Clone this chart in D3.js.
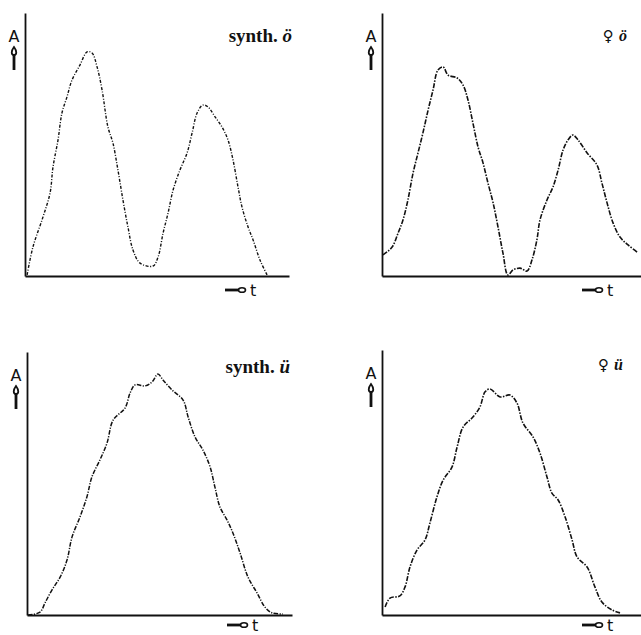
<html>
<head>
  <title>Amplitude envelopes ö / ü</title>
  <script src="https://d3js.org/d3.v7.min.js"></script>
  <style>
    body { margin: 0; background: white; }
    svg { display: block; }
  </style>
</head>
<body>
<script>
  // amplitude envelopes, t and A in % of axis length
  const synthOeT = [0.8, 3.0, 6.8, 9.5, 10.6, 12.5, 14.0, 15.9, 17.8, 20.8, 23.5, 25.4, 27.3, 29.2, 31.4, 33.3, 35.2, 37.1, 39.0, 40.9, 43.6, 48.5, 50.4, 52.3, 54.2, 56.1, 58.7, 61.4, 63.3, 65.2, 67.4, 69.3, 72.0, 74.6, 76.9, 78.8, 80.7, 82.2, 84.5, 86.4, 89.0, 91.7];
  const synthOeA = [0.4, 11.0, 22.4, 31.6, 41.4, 51.7, 62.0, 68.1, 74.5, 80.2, 85.2, 84.8, 79.5, 70.7, 56.7, 50.6, 40.3, 28.9, 18.6, 9.9, 4.9, 3.8, 7.2, 16.3, 24.0, 32.7, 40.3, 46.8, 54.4, 62.0, 65.0, 64.3, 60.5, 56.7, 51.7, 44.1, 33.8, 26.2, 18.6, 13.7, 6.1, 0.4];

  const femOeT = [0.4, 3.9, 6.2, 8.1, 10.0, 12.0, 13.9, 15.8, 17.8, 19.7, 21.6, 23.6, 25.5, 29.0, 31.3, 33.2, 35.1, 37.1, 39.0, 40.9, 42.9, 44.8, 46.7, 48.6, 50.6, 53.3, 56.0, 57.9, 59.8, 61.0, 63.7, 66.0, 68.0, 69.9, 71.8, 73.7, 75.7, 79.2, 83.0, 84.9, 86.9, 89.2, 91.9, 95.0, 98.5];
  const femOeA = [8.0, 11.0, 16.3, 21.3, 28.9, 39.2, 46.8, 54.4, 63.1, 70.7, 78.3, 79.5, 76.4, 75.3, 72.6, 66.9, 58.2, 49.0, 43.0, 35.4, 27.8, 18.6, 8.7, 0.4, 2.3, 3.0, 1.9, 6.1, 13.7, 21.3, 28.9, 33.8, 40.3, 47.9, 51.7, 53.6, 51.7, 46.8, 42.2, 35.4, 27.8, 20.2, 14.8, 11.8, 9.1];

  const synthUeT = [0.4, 4.9, 6.8, 9.4, 12.5, 15.1, 17.0, 20.0, 22.6, 24.5, 27.5, 30.2, 32.5, 37.0, 38.9, 40.8, 44.5, 47.2, 49.4, 51.3, 54.7, 58.9, 60.8, 63.4, 66.4, 69.1, 70.9, 72.8, 75.5, 77.7, 80.4, 83.4, 86.8, 89.8, 92.5, 96.6];
  const synthUeA = [0, 1.1, 4.6, 9.5, 14.4, 20.9, 29.7, 37.3, 44.9, 52.5, 58.9, 65.4, 74.1, 78.7, 84.4, 87.5, 87.1, 88.6, 91.6, 89.4, 85.6, 81.7, 75.3, 67.7, 62.7, 56.3, 48.7, 41.1, 36.1, 31.2, 23.6, 14.4, 8.4, 3.0, 0.8, 0.4];

  const femUeT = [1.2, 3.1, 6.9, 8.9, 10.8, 13.5, 16.6, 18.5, 21.2, 23.6, 27.0, 29.0, 31.3, 35.1, 37.8, 39.8, 41.7, 45.6, 49.4, 52.1, 54.4, 58.3, 61.0, 63.7, 65.6, 68.0, 70.7, 73.4, 75.3, 79.2, 82.2, 84.9, 88.8, 91.9];
  const femUeA = [3.0, 6.4, 7.2, 10.6, 18.1, 24.5, 28.3, 34.7, 44.5, 50.9, 55.8, 63.4, 70.9, 74.7, 78.5, 84.2, 85.3, 82.3, 83.0, 80.0, 72.5, 67.2, 61.1, 52.1, 46.0, 43.4, 37.0, 28.3, 21.9, 18.1, 10.6, 4.9, 1.9, 0.8];

  const titles = [["synth. ", "ö"], ["♀ ", "ö"], ["synth. ", "ü"], ["♀ ", "ü"]];

  const width = 641, height = 635;
  const svg = d3.select("body").append("svg")
    .attr("width", width)
    .attr("height", height);

  // panel frames: x0/x1 = t axis ends, y0 = baseline, y1 = top of A axis
  const panels = [
    { t: synthOeT, a: synthOeA, title: titles[0], x0: 25, x1: 289, y0: 276, y1: 13, tx: 292, ty: 42, lab: 14, dash: "3,1.6,1,1.6", sw: 1.4, bold: true },
    { t: femOeT, a: femOeA, title: titles[1], x0: 382, x1: 641, y0: 276, y1: 13, tx: 627, ty: 41, lab: 14, dash: "5,1.4,1.5,1.4", sw: 1.6, bold: false },
    { t: synthUeT, a: synthUeA, title: titles[2], x0: 27, x1: 292, y0: 615, y1: 352, tx: 290, ty: 373, lab: 10, dash: "4.5,1.4,1.2,1.4", sw: 1.5, bold: true },
    { t: femUeT, a: femUeA, title: titles[3], x0: 382, x1: 641, y0: 615, y1: 350, tx: 623, ty: 370, lab: 10, dash: "5,1.4,1.5,1.4", sw: 1.6, bold: false }
  ];

  panels.forEach(p => {
    const x = d3.scaleLinear().domain([0, 100]).range([p.x0, p.x1]);
    const y = d3.scaleLinear().domain([0, 100]).range([p.y0, p.y1]);
    const g = svg.append("g");

    // axes without ticks, just the lines
    g.append("g")
      .attr("transform", `translate(0,${p.y0})`)
      .call(d3.axisBottom(x).ticks(0).tickSize(0).tickSizeOuter(0))
      .call(a => a.select(".domain").attr("stroke", "#111").attr("stroke-width", 1.8));
    g.append("g")
      .attr("transform", `translate(${p.x0},0)`)
      .call(d3.axisLeft(y).ticks(0).tickSize(0).tickSizeOuter(0))
      .call(a => a.select(".domain").attr("stroke", "#111").attr("stroke-width", 1.8));

    // envelope curve
    const pts = p.t.map((d, i) => [d, p.a[i]]);
    g.append("path")
      .datum(pts)
      .attr("fill", "none")
      .attr("stroke", "#111")
      .attr("stroke-width", p.sw)
      .attr("stroke-dasharray", p.dash)
      .attr("d", d3.line().x(d => x(d[0])).y(d => y(d[1])).curve(d3.curveCatmullRom.alpha(0.5)));

    // A with upward arrow
    const ax = p.x0 - 11, ay = p.y1 + 29;
    g.append("text")
      .attr("x", ax).attr("y", ay)
      .attr("text-anchor", "middle")
      .attr("font-family", "DejaVu Sans, sans-serif")
      .attr("font-size", 16)
      .attr("fill", "#111")
      .text("A");
    g.append("path")
      .attr("d", `M${ax},${ay + 5} C${ax + 3},${ay + 9} ${ax + 3},${ay + 13} ${ax},${ay + 13} C${ax - 3},${ay + 13} ${ax - 3},${ay + 9} ${ax},${ay + 5} Z`)
      .attr("fill", "none").attr("stroke", "#111").attr("stroke-width", 1.8);
    g.append("line")
      .attr("x1", ax).attr("x2", ax)
      .attr("y1", ay + 13).attr("y2", ay + 28)
      .attr("stroke", "#111").attr("stroke-width", 2.8);

    // -o t label under the time axis
    const lx = p.x0 + 200, ly = p.y0 + p.lab;
    g.append("line")
      .attr("x1", lx).attr("x2", lx + 14)
      .attr("y1", ly).attr("y2", ly)
      .attr("stroke", "#111").attr("stroke-width", 2.8);
    g.append("ellipse")
      .attr("cx", lx + 17).attr("cy", ly).attr("rx", 3.5).attr("ry", 2.3)
      .attr("fill", "white").attr("stroke", "#111").attr("stroke-width", 1.6);
    g.append("text")
      .attr("x", lx + 25).attr("y", ly + 6)
      .attr("font-family", "DejaVu Sans, sans-serif")
      .attr("font-size", 16)
      .attr("fill", "#111")
      .text("t");

    // title, vowel in bold italic
    const tt = g.append("text")
      .attr("x", p.tx).attr("y", p.ty)
      .attr("text-anchor", "end")
      .attr("fill", "#111")
      .attr("font-size", p.bold ? 19 : 16);
    tt.append("tspan")
      .attr("font-family", p.bold ? "Liberation Serif, serif" : "DejaVu Sans, sans-serif")
      .attr("font-weight", "bold")
      .attr("font-size", p.bold ? 19 : 15)
      .text(p.title[0]);
    tt.append("tspan")
      .attr("font-family", "Liberation Serif, serif")
      .attr("font-weight", "bold")
      .attr("font-style", "italic")
      .text(p.title[1]);
  });
</script>
</body>
</html>
